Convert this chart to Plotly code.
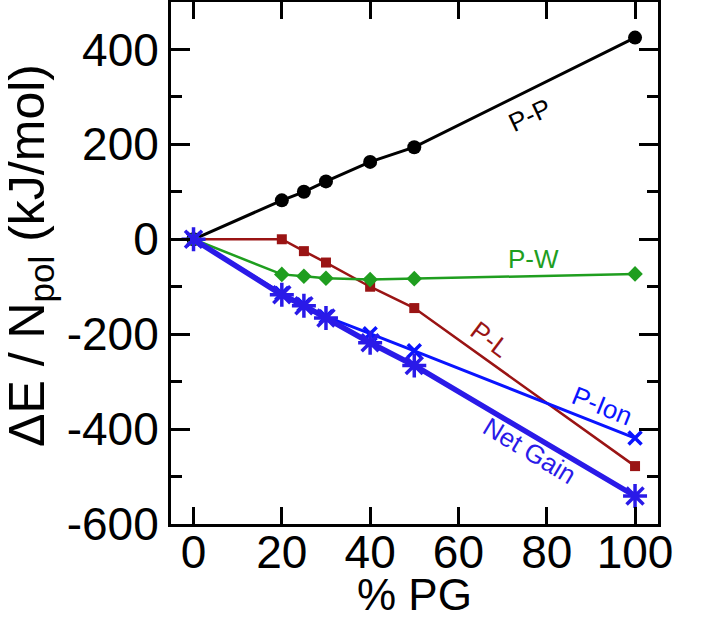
import plotly.graph_objects as go

x_pg = [0, 20, 25, 30, 40, 50, 100]
pp = [0, 82, 100, 122, 163, 194, 425]
pw = [0, -74, -78, -82, -85, -83, -73]
pl = [0, 0, -25, -49, -100, -145, -478]
pion = [0, -114, -138, -163, -199, -235, -419]
net = [0, -117, -140, -166, -218, -266, -541]

x_ticks = [0, 20, 40, 60, 80, 100]
x_ticktext = ["0", "20", "40", "60", "80", "100"]
y_ticks = [-600, -400, -200, 0, 200, 400]
y_ticktext = ["-600", "-400", "-200", "0", "200", "400"]

BLACK = "#000000"
RED = "#9a1414"
GREEN = "#1f9e1f"
BLUE = "#0a14ff"
NETBLUE = "#2a1ae8"
FONT = "Liberation Sans, Arial, sans-serif"

fig = go.Figure()
fig.add_trace(go.Scatter(x=x_pg, y=pp, mode="lines+markers", name="P-P",
                         line=dict(color=BLACK, width=3),
                         marker=dict(symbol="circle", size=14, color=BLACK)))
fig.add_trace(go.Scatter(x=x_pg, y=pl, mode="lines+markers", name="P-L",
                         line=dict(color=RED, width=2.5),
                         marker=dict(symbol="square", size=10, color=RED)))
fig.add_trace(go.Scatter(x=x_pg, y=pw, mode="lines+markers", name="P-W",
                         line=dict(color=GREEN, width=2.5),
                         marker=dict(symbol="diamond", size=12, color=GREEN)))
fig.add_trace(go.Scatter(x=x_pg, y=pion, mode="lines+markers", name="P-Ion",
                         line=dict(color=BLUE, width=3),
                         marker=dict(symbol="x-thin", size=13, color=BLUE,
                                     line=dict(color=BLUE, width=3.5))))
fig.add_trace(go.Scatter(x=x_pg, y=net, mode="lines+markers", name="Net Gain",
                         line=dict(color=NETBLUE, width=5.5),
                         marker=dict(symbol="asterisk-open", size=20, color=NETBLUE,
                                     line=dict(color=NETBLUE, width=3.5))))

annots = [
    ("P-P", 76.2, 262, -25, BLACK),
    ("P-W", 76.9, -42, 0, GREEN),
    ("P-L", 67.1, -210, 37, RED),
    ("P-Ion", 92.6, -352, 22, BLUE),
    ("Net Gain", 76.2, -447, 31, NETBLUE),
]
for txt, ax_, ay_, rot, col in annots:
    fig.add_annotation(x=ax_, y=ay_, xref="x", yref="y", text=txt, showarrow=False,
                       textangle=rot, font=dict(family=FONT, size=26, color=col))

# axis titles
fig.add_annotation(x=0.501, y=-0.136, xref="paper", yref="paper", text="% PG",
                   showarrow=False, xanchor="center", yanchor="middle",
                   font=dict(family=FONT, size=44, color="black"))
fig.add_annotation(x=-0.29, y=0.515, xref="paper", yref="paper",
                   text="ΔE / N<sub>pol</sub> (kJ/mol)", textangle=-90,
                   showarrow=False, xanchor="center", yanchor="middle",
                   font=dict(family=FONT, size=50, color="black"))

axis_common = dict(showline=True, linecolor="black", linewidth=3, mirror="allticks",
                   ticks="inside", tickcolor="black", tickwidth=3, showgrid=False,
                   zeroline=False, automargin=False,
                   tickfont=dict(family=FONT, size=46, color="black"))

fig.update_xaxes(range=[-5.1, 105.2], tickvals=x_ticks, ticktext=x_ticktext, ticklen=17,
                 ticklabelstandoff=-14, **axis_common)
fig.update_yaxes(range=[-600, 500], tickvals=y_ticks, ticktext=y_ticktext, ticklen=19,
                 minor=dict(dtick=100, ticks="inside", ticklen=11, tickwidth=3,
                            tickcolor="black", showgrid=False),
                 **axis_common)

fig.update_layout(width=708, height=617, margin=dict(l=171, r=50, t=2, b=93, autoexpand=False),
                  paper_bgcolor="white", plot_bgcolor="white", showlegend=False)

fig.write_html("out.html", config={"displayModeBar": False},
               post_script="document.body.style.margin='0';")
